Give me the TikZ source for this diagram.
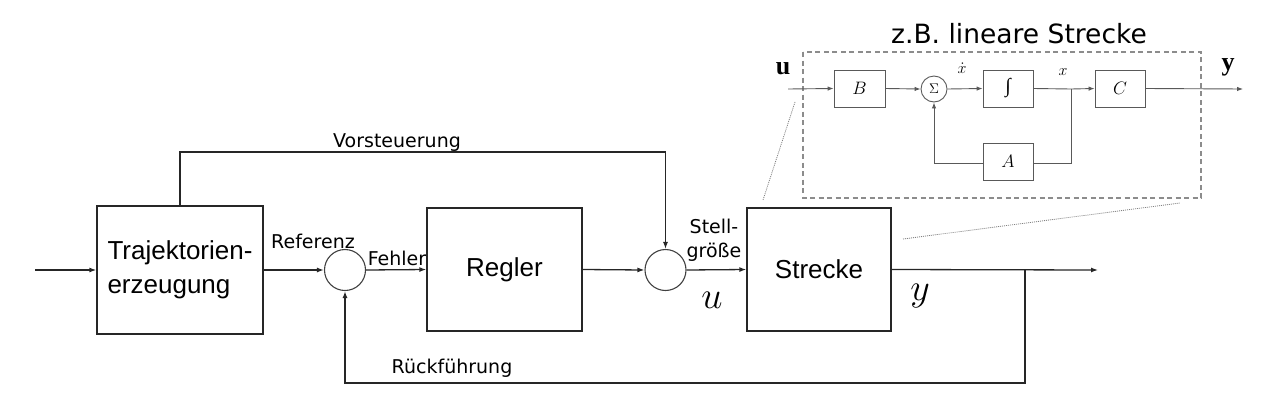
\documentclass[tikz,border=0pt]{standalone}
\usepackage{fix-cm}
\usepackage{fontspec}
\usetikzlibrary{arrows.meta}
\newfontfamily\dvfont{DejaVu Sans}
\newfontfamily\arfont{Liberation Sans}
\newfontfamily\tmfont{Liberation Serif}
\begin{document}
\begin{tikzpicture}[x=1pt,y=-1pt,
  line join=miter,
  mainline/.style={draw=black!85, line width=1.3pt},
  arr/.style={mainline, -{Latex[length=7pt,width=5pt]}},
  blk/.style={mainline, rectangle, inner sep=0pt},
  sumnode/.style={draw=black!75, line width=1.1pt, circle, inner sep=0pt, minimum size=41pt},
  lbl/.style={font=\dvfont\fontsize{19}{24}\selectfont, inner sep=0pt},
  blktxt/.style={font=\arfont\fontsize{26}{34}\selectfont},
  thin/.style={draw=black!65, line width=0.9pt},
  tarr/.style={thin, -{Latex[length=6pt,width=4.5pt]}},
  tblk/.style={thin, rectangle, inner sep=0pt, minimum width=51pt, minimum height=37pt, font=\fontsize{18}{20}\selectfont},
]
\useasboundingbox (0,0) rectangle (1268,418);

% main blocks
\node[blk, blktxt, minimum width=166pt, minimum height=128pt, align=left] (traj) at (180,270) {Trajektorien-\\erzeugung};
\node[blk, blktxt, minimum width=155pt, minimum height=123pt] (regler) at (504.5,269.5) {Regler};
\node[blk, blktxt, minimum width=144pt, minimum height=123pt] (strecke) at (819,269.5) {Strecke};
\node[sumnode] (s1) at (345,270) {};
\node[sumnode] (s2) at (665.5,270) {};

\coordinate (in) at (35,270);
\coordinate (out) at (1098,270);
\coordinate (fb) at (1025,270);
\coordinate (fbb) at (1025,383);
\coordinate (vt) at (180,152);

\draw[arr] (in) -- (traj.west);
\draw[arr] (traj.east) -- (s1.west);
\draw[arr] (s1.east) -- (regler.west);
\draw[arr] (regler.east) -- (s2.west);
\draw[arr] (s2.east) -- (strecke.west);
\draw[arr] (strecke.east) -- (out);
\draw[arr] (fb) -- (fbb) -| (s1.south);
\draw[arr] (traj.north) -- (vt) -| (s2.north);

% labels
\node[lbl] (lref) at (313,241) {Referenz};
\node[lbl] (lfeh) at (397,258) {Fehler};
\node[lbl, align=center] (lstell) at (714,240) {Stell-\\größe};
\node[lbl] (lvor) at (397,143) {Vorsteuerung};
\node[lbl] (lrueck) at (452,368) {Rückführung};
\node[font=\fontsize{38}{38}\selectfont, inner sep=0pt] (lu) at (712,300) {$u$};
\node[font=\fontsize{38}{38}\selectfont, inner sep=0pt] (ly) at (920,296) {$y$};

% inset
\node[font=\dvfont\fontsize{26.5}{30}\selectfont, inner sep=0pt] (title) at (1019,34) {z.B. lineare Strecke};
\draw[draw=black!45, line width=1.1pt, dash pattern=on 5pt off 3.5pt] (803,52) rectangle (1201,198);

\node[tblk] (B) at (859.5,88.5) {$B$};
\node[thin, circle, inner sep=0pt, minimum size=26pt, font=\fontsize{14}{14}\selectfont] (sig) at (934,89) {$\Sigma$};
\node[tblk, minimum width=50pt, font=\tmfont\fontsize{20}{20}\selectfont] (I) at (1008,88.5) {∫};
\node[tblk, minimum width=50pt] (C) at (1120,88.5) {$C$};
\node[tblk, minimum width=50pt] (A) at (1008,161.5) {$A$};

\coordinate (iin) at (788,89);
\coordinate (ibr) at (1071,89);
\coordinate (ibrd) at (1071,163);
\coordinate (iout) at (1243,89);

\draw[tarr] (iin) -- (B.west);
\draw[tarr] (B.east) -- (sig.west);
\draw[tarr] (sig.east) -- (I.west);
\draw[thin] (I.east) -- (ibr);
\draw[tarr] (ibr) -- (C.west);
\draw[tarr] (C.east) -- (iout);
\draw[thin] (ibr) -- (ibrd) -- (A.east |- ibrd);
\draw[tarr] (A.west |- ibrd) -| (sig.south);

\node[font=\tmfont\bfseries\fontsize{26}{26}\selectfont, inner sep=0pt] (iu) at (783,69) {u};
\node[font=\tmfont\bfseries\fontsize{26}{26}\selectfont, inner sep=0pt] (iy) at (1228,67) {y};
\node[font=\fontsize{16}{16}\selectfont, inner sep=0pt] (ixd) at (962,68) {$\dot{x}$};
\node[font=\fontsize{16}{16}\selectfont, inner sep=0pt] (ix) at (1063,72) {$x$};

% zoom lines
\coordinate (z1a) at (795,102);
\coordinate (z1b) at (763,200);
\coordinate (z2a) at (903,239);
\coordinate (z2b) at (1180,203);
\draw[draw=black!50, line width=0.8pt, dash pattern=on 1pt off 1pt] (z1a) -- (z1b);
\draw[draw=black!50, line width=0.8pt, dash pattern=on 1pt off 1pt] (z2a) -- (z2b);
\end{tikzpicture}
\end{document}
